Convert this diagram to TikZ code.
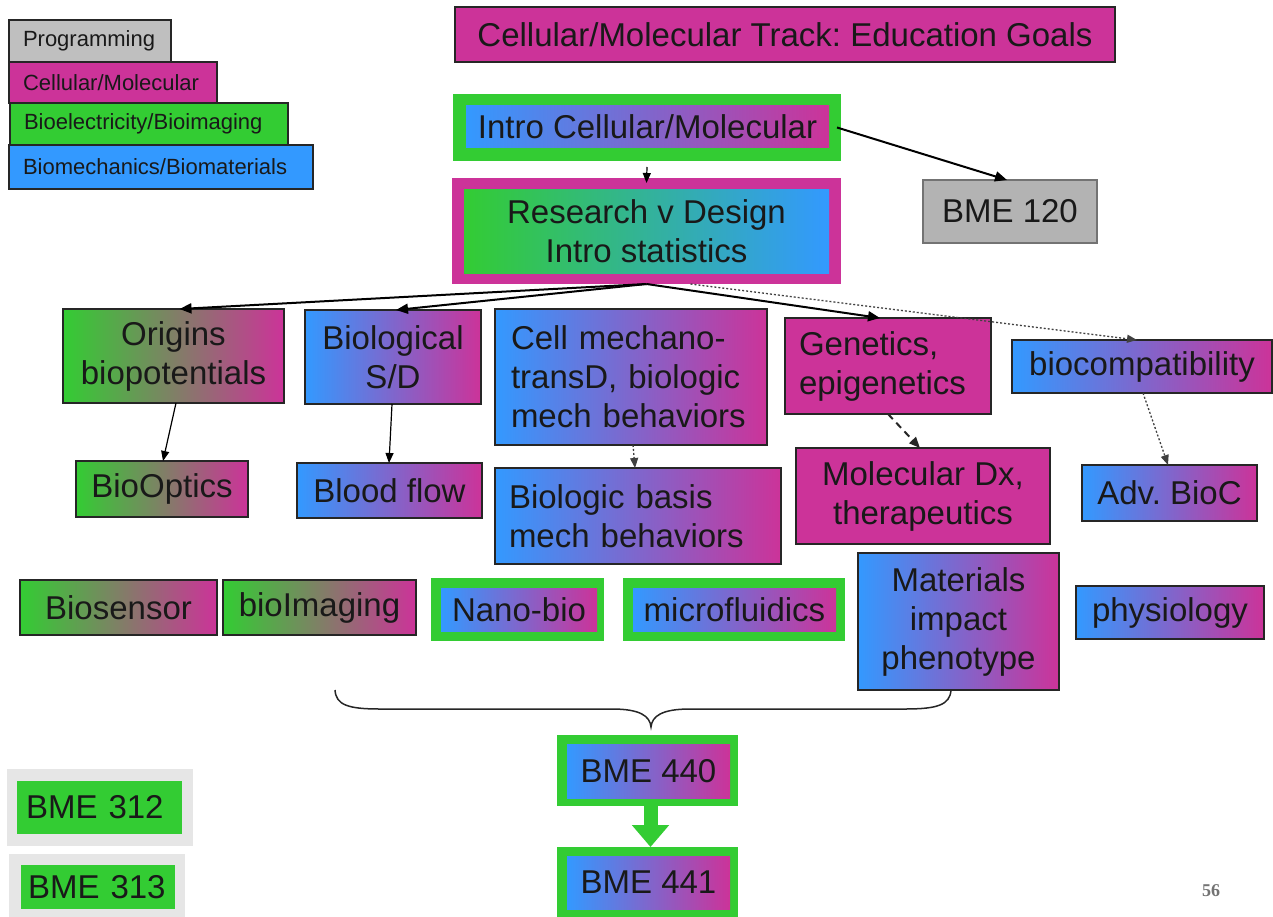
\documentclass[tikz,border=0pt]{standalone}
\usepackage{fontspec}
\setmainfont{Liberation Sans}
\newfontfamily\pgnumfont{Liberation Serif}
\usetikzlibrary{arrows.meta}
\definecolor{cgreen}{HTML}{33CC33}
\definecolor{cmag}{HTML}{CC3399}
\definecolor{cblue}{HTML}{3399FF}
\definecolor{cgray}{HTML}{BFBFBF}
\definecolor{cgraytwo}{HTML}{B3B3B3}
\definecolor{clight}{HTML}{E6E6E6}
\definecolor{cedge}{HTML}{262626}
\newcommand\fbig{\fontsize{33}{39}\selectfont}
\newcommand\fleg{\fontsize{22}{26}\selectfont}
\frenchspacing
\begin{document}
\begin{tikzpicture}[x=1pt,y=-1pt,
 every node/.style={inner sep=0pt, outer sep=0pt, text=black!90},
 bx/.style 2 args={minimum width=#1, minimum height=#2},
 edged/.style={draw=cedge, line width=1.3pt},
 bm/.style={left color=cblue, right color=cmag},
 gm/.style={left color=cgreen, right color=cmag},
 gb/.style={left color=cgreen, right color=cblue},
 big/.style={font=\fbig, align=center},
 leg/.style={font=\fleg, align=left, inner xsep=14pt},
 frame/.style={fill=cgreen},
 arr/.style={-{Triangle[length=10pt,width=8pt]}, line width=1.2pt, draw=black},
 arrthick/.style={-{Triangle[length=12pt,width=10pt]}, line width=2pt, draw=black},
 dotarr/.style={-{Triangle[length=10pt,width=8pt]}, line width=1.3pt, draw=black!75, dash pattern=on 2pt off 2pt},
 dasharr/.style={-{Triangle[length=11pt,width=9pt]}, line width=2pt, draw=black!85, dash pattern=on 7pt off 5pt},
 bigarr/.style={-{Triangle[length=22pt,width=36pt]}, line width=14pt, draw=cgreen}
]
\fill[white] (0,0) rectangle (1273,917);
\useasboundingbox (0,0) rectangle (1273,917);

% legend
\node[edged, fill=cgray, leg, bx={162}{42}, text width=134pt] (leg1) at (90,41) {Programming};
\node[edged, fill=cmag, leg, bx={208}{41}, text width=180pt] (leg2) at (113,82.5) {Cellular/Molecular};
\node[edged, fill=cgreen, leg, bx={278}{42}, text width=250pt] (leg3) at (149,124) {Bioelectricity/Bioimaging};
\node[edged, fill=cblue, leg, bx={304}{44}, text width=276pt] (leg4) at (161,167) {Biomechanics/Biomaterials};

% title
\node[edged, fill=cmag, big, bx={660}{55}] (title) at (785,34.5) {Cellular/Molecular Track: Education Goals};

% intro
\node[frame, bx={388}{67}] (introout) at (647,127.5) {};
\node[bm, big, bx={363}{42}] (intro) at (647.5,127) {Intro Cellular/Molecular};

% research
\node[fill=cmag, bx={389}{106}] (resout) at (646.5,231) {};
\node[gb, big, bx={365}{83}] (res) at (646.5,231.5) {Research v Design\\Intro statistics};

% BME 120
\node[draw=black!55, line width=1.3pt, fill=cgraytwo, big, bx={174}{63}] (b120) at (1010,211.5) {BME 120};

% row 1
\node[edged, gm, big, bx={221}{94}] (orig) at (173.5,356) {Origins\\biopotentials};
\node[edged, bm, big, bx={176}{94}] (biol) at (393,357) {Biological\\S/D};
\node[edged, bm, font=\fbig, align=left, inner xsep=16pt, text width=240pt, bx={272}{136}] (cell) at (631,377) {Cell mechano-\\transD, biologic\\mech behaviors};
\node[edged, fill=cmag, font=\fbig, align=left, inner xsep=14pt, text width=178pt, bx={206}{96}] (gen) at (888,366) {Genetics,\\epigenetics};
\node[edged, bm, big, bx={260}{53}] (bioc) at (1142,366.5) {biocompatibility};

% row 2
\node[edged, gm, big, bx={172}{56}] (bopt) at (162,489) {BioOptics};
\node[edged, bm, big, bx={185}{55}] (blood) at (389.5,490.5) {Blood flow};
\node[edged, bm, font=\fbig, align=left, inner xsep=14pt, text width=258pt, bx={286}{96}] (basis) at (638,516) {Biologic basis\\mech behaviors};
\node[edged, fill=cmag, big, bx={254}{96}] (moldx) at (923,496) {Molecular Dx,\\therapeutics};
\node[edged, bm, big, bx={175}{56}] (adv) at (1169.5,493) {Adv. BioC};

% row 3
\node[edged, gm, big, bx={197}{55}] (sens) at (118.5,607.5) {Biosensor};
\node[edged, gm, big, bx={193}{55}] (imag) at (319.5,607.5) {bioImaging};
\node[frame, bx={173}{63}] (nanoout) at (517.5,609.5) {};
\node[bm, big, bx={156}{43}] (nano) at (519,609.5) {Nano-bio};
\node[frame, bx={222}{63}] (microout) at (734,609.5) {};
\node[bm, big, bx={203}{43}] (micro) at (734.5,609.5) {microfluidics};
\node[edged, bm, big, bx={201}{137}] (mat) at (958.5,621.5) {Materials\\impact\\phenotype};
\node[edged, bm, big, bx={188}{53}] (phys) at (1170,612.5) {physiology};

% brace
\draw[line width=1.5pt, black!85] (335,690) .. controls (336,705) and (348,709) .. (380,709) -- (612,709) .. controls (640,709) and (650,716) .. (651,727) .. controls (652,716) and (662,709) .. (690,709) -- (905,709) .. controls (937,709) and (950,705) .. (951,690);

% BME 440 / 441
\node[frame, bx={181}{71}] (b440out) at (647.5,770.5) {};
\node[bm, big, bx={163}{54}] (b440) at (648.5,771) {BME 440};
\node[frame, bx={181}{70}] (b441out) at (647.5,882) {};
\node[bm, big, bx={163}{53}] (b441) at (648.5,882.5) {BME 441};

% BME 312 / 313
\node[fill=clight, bx={186}{77}] (b312out) at (100,807.5) {};
\node[fill=cgreen, font=\fbig, align=left, inner xsep=9pt, text width=147pt, bx={165}{53}] (b312) at (99.5,807.5) {BME 312};
\node[fill=clight, bx={176}{63}] (b313out) at (97,885.5) {};
\node[fill=cgreen, font=\fbig, align=left, inner xsep=7pt, text width=140pt, bx={154}{44}] (b313) at (98,887) {BME 313};

% page number
\node[text=black!55, font=\pgnumfont\fontsize{18}{20}\selectfont\bfseries] (pg) at (1211,891) {56};

% connectors
\draw[arr] ([yshift=-6pt]introout.south) -- ([yshift=-5pt]resout.north);
\draw[arrthick] ([xshift=-4pt]introout.east) -- ([xshift=-3pt]b120.north);
\draw[arrthick] (resout.south) -- ([xshift=6pt]orig.north);
\draw[arrthick] (resout.south) -- ([xshift=3pt]biol.north);
\draw[arrthick] (resout.south) -- ([xshift=-8pt]gen.north);
\draw[dotarr] ([xshift=44pt]resout.south) -- ([xshift=-5pt]bioc.north);
\draw[arr] ([xshift=2.5pt]orig.south) -- ([xshift=1pt]bopt.north);
\draw[arr] ([xshift=-1pt]biol.south) -- ([xshift=-0.5pt]blood.north);
\draw[dotarr] ([xshift=2pt]cell.south) -- ([xshift=-3pt]basis.north);
\draw[dasharr] (gen.south) -- ([xshift=-3pt]moldx.north);
\draw[dotarr] ([xshift=1pt]bioc.south) -- ([xshift=-1.5pt]adv.north);
\draw[bigarr] ([xshift=3pt]b440out.south) -- ([xshift=3pt]b441out.north);
\end{tikzpicture}
\end{document}
